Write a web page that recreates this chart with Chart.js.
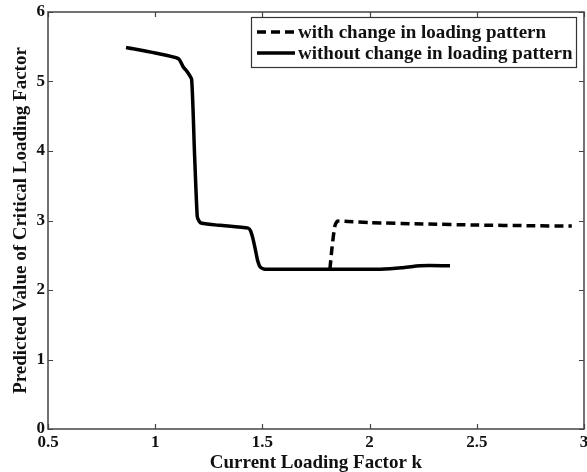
<!DOCTYPE html>
<html>
<head>
<meta charset="utf-8">
<script src="https://cdn.jsdelivr.net/npm/chart.js@4.4.0/dist/chart.umd.min.js"></script>
<style>
  html, body { margin: 0; padding: 0; background: #fff; }
  #wrap { width: 587px; height: 472px; position: relative; }
</style>
</head>
<body>
<div id="wrap"><canvas id="chart"></canvas></div>
<script>
// values
const solidK = [0.864, 1.0, 1.108, 1.131, 1.154, 1.170, 1.183, 1.196, 1.205, 1.217, 1.30, 1.434, 1.445, 1.455, 1.466, 1.478, 1.490, 1.512, 1.60, 1.815, 1.95, 2.05, 2.15, 2.235, 2.375];
const solidV = [5.49, 5.41, 5.33, 5.21, 5.12, 5.03, 4.00, 3.06, 2.99, 2.96, 2.93, 2.89, 2.85, 2.75, 2.60, 2.42, 2.33, 2.30, 2.30, 2.30, 2.30, 2.30, 2.32, 2.35, 2.35];
const dashK = [1.815, 1.825, 1.838, 1.85, 1.9, 2.0, 2.25, 2.5, 2.75, 2.943];
const dashV = [2.30, 2.62, 2.92, 2.99, 2.985, 2.97, 2.95, 2.935, 2.925, 2.92];
const xTicks = [0.5, 1, 1.5, 2, 2.5, 3];
const yTicks = [0, 1, 2, 3, 4, 5, 6];

const serif = "'Liberation Serif', 'Times New Roman', serif";
const ink = "#111";

function pts(xs, ys) {
  return xs.map((x, i) => ({ x, y: ys[i] }));
}

// box around the plot and the inward tick marks on all four sides
const frame = {
  id: "frame",
  afterDraw(chart) {
    const { ctx, chartArea: a, scales } = chart;
    ctx.save();
    ctx.strokeStyle = "#444";
    ctx.lineWidth = 1.5;
    ctx.strokeRect(a.left, a.top, a.right - a.left, a.bottom - a.top);
    ctx.lineWidth = 1.2;
    ctx.beginPath();
    xTicks.forEach((v) => {
      const px = Math.round(scales.x.getPixelForValue(v)) + 0.5;
      ctx.moveTo(px, a.bottom); ctx.lineTo(px, a.bottom - 5);
      ctx.moveTo(px, a.top); ctx.lineTo(px, a.top + 5);
    });
    yTicks.forEach((v) => {
      const py = Math.round(scales.y.getPixelForValue(v)) + 0.5;
      ctx.moveTo(a.left, py); ctx.lineTo(a.left + 5, py);
      ctx.moveTo(a.right, py); ctx.lineTo(a.right - 5, py);
    });
    ctx.stroke();

    // legend box in the top right corner
    const bx = 251, by = 17, bw = 325, bh = 50;
    ctx.fillStyle = "#fff";
    ctx.fillRect(bx, by, bw, bh);
    ctx.strokeStyle = "#333";
    ctx.lineWidth = 1.2;
    ctx.strokeRect(bx + 0.5, by + 0.5, bw, bh);
    ctx.font = "bold 19px " + serif;
    ctx.textBaseline = "middle";
    chart.data.datasets.forEach((ds, i) => {
      const cy = by + 15 + i * 21;
      ctx.strokeStyle = "#000";
      ctx.lineWidth = 3.5;
      ctx.setLineDash(ds.borderDash || []);
      ctx.beginPath();
      ctx.moveTo(bx + 6, cy); ctx.lineTo(bx + 44, cy);
      ctx.stroke();
      ctx.setLineDash([]);
      ctx.fillStyle = ink;
      ctx.fillText(ds.label, bx + 47, cy + 1);
    });
    ctx.restore();
  },
};

const tickFont = { family: serif, size: 17, weight: "bold" };
const titleFont = { family: serif, size: 19, weight: "bold" };

new Chart(document.getElementById("chart"), {
  type: "line",
  data: {
    datasets: [
      {
        label: "with change in loading pattern",
        data: pts(dashK, dashV),
        borderColor: "#000",
        borderWidth: 3.5,
        borderDash: [9, 5],
        pointRadius: 0,
        tension: 0.2,
        fill: false,
      },
      {
        label: "without change in loading pattern",
        data: pts(solidK, solidV),
        borderColor: "#000",
        borderWidth: 3.5,
        pointRadius: 0,
        tension: 0.2,
        fill: false,
      },
    ],
  },
  options: {
    responsive: true,
    maintainAspectRatio: false,
    animation: false,
    layout: { padding: { top: 12, right: 3, left: 0, bottom: 0 } },
    plugins: { legend: { display: false }, tooltip: { enabled: false } },
    scales: {
      x: {
        type: "linear",
        min: 0.5,
        max: 3,
        afterFit: (s) => { s.height = 43; },
        afterBuildTicks: (s) => { s.ticks = xTicks.map((v) => ({ value: v })); },
        grid: { display: false },
        border: { display: false },
        ticks: { color: ink, font: tickFont, padding: -5, maxRotation: 0, callback: (v) => String(v) },
        title: {
          display: true,
          text: "Current Loading Factor k",
          color: ink,
          font: titleFont,
          padding: { top: 0, bottom: -2 },
        },
      },
      y: {
        min: 0,
        max: 6,
        afterFit: (s) => { s.width = 48; },
        afterBuildTicks: (s) => { s.ticks = yTicks.map((v) => ({ value: v })); },
        grid: { display: false },
        border: { display: false },
        ticks: { color: ink, font: tickFont, padding: -5, callback: (v) => String(v) },
        title: {
          display: true,
          text: "Predicted Value of Critical Loading Factor",
          color: ink,
          font: titleFont,
          padding: { top: 10, bottom: 0 },
        },
      },
    },
  },
  plugins: [frame],
});
</script>
</body>
</html>
